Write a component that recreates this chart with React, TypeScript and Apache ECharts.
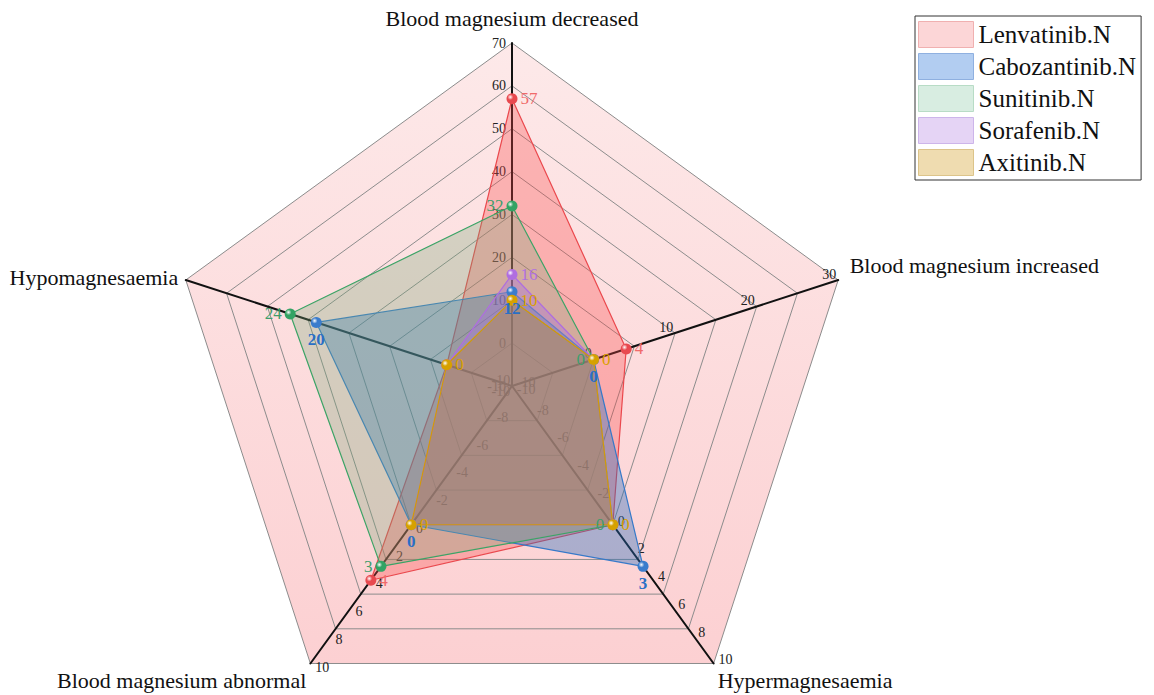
import React, { useEffect, useRef } from "react";
import * as echarts from "echarts";

// Indicators in counter-clockwise order starting from the top
const indicatorNames = [
  "Blood magnesium decreased",
  "Hypomagnesaemia",
  "Blood magnesium abnormal",
  "Hypermagnesaemia",
  "Blood magnesium increased",
];
const axisMin = [-10, -10, -10, -10, -10];
const axisMax = [70, 40, 10, 10, 30];
// tick step for each indicator's labels
const labelStep = [10, 50, 2, 2, 10];

const seriesNames = ["Lenvatinib.N", "Cabozantinib.N", "Sunitinib.N", "Sorafenib.N", "Axitinib.N"];
const lenvatinib = [57, 0, 4, 0, 4];
const cabozantinib = [12, 20, 0, 3, 0];
const sunitinib = [32, 24, 3, 0, 0];
const sorafenib = [16, 0, 0, 0, 0];
const axitinib = [10, 0, 0, 0, 0];
const seriesValues = [lenvatinib, cabozantinib, sunitinib, sorafenib, axitinib];
// which indicator values get a visible value label
const labelDims = [[0, 2, 4], [0, 1, 2, 3, 4], [0, 1, 2, 3, 4], [0], [0, 1, 2, 3, 4]];

const FONT = '"Liberation Serif", "Times New Roman", serif';

const lineColors = ["#e8494f", "#3a7ccc", "#33a364", "#b06ee0", "#d6a100"];
const areaColors = [
  "rgba(250,70,70,0.32)",
  "rgba(40,110,190,0.38)",
  "rgba(120,170,120,0.30)",
  "rgba(170,110,230,0.35)",
  "rgba(190,140,30,0.35)",
];
const labelColors = ["#f06a6a", "#2a6fc6", "#3f9e6c", "#b070e0", "#d8a000"];
const labelPos = ["right", "bottom", "left", "right", "right"];
const labelBold = [false, true, false, false, false];
const legendFill = ["#fcd6d7", "#b2cdf1", "#d8ede1", "#e5d4f5", "#efdcb0"];
const legendBorder = ["#f0b0b0", "#8fb0e0", "#b8dcc6", "#cdb5ea", "#dcc48a"];
const nameGaps = [14, 8, 7, 7, 12];
const nameStyles: any[] = [
  {},
  {},
  { align: "right", verticalAlign: "top" },
  { align: "left", verticalAlign: "top" },
  { align: "left", verticalAlign: "bottom" },
];

function ball(c: string) {
  return {
    type: "radial",
    x: 0.35,
    y: 0.35,
    r: 0.75,
    colorStops: [
      { offset: 0, color: "#ffffff" },
      { offset: 0.35, color: c },
      { offset: 1, color: c },
    ],
  };
}

export default function App() {
  const ref = useRef<HTMLDivElement>(null);
  useEffect(() => {
    document.body.style.margin = "0";
    const chart = echarts.init(ref.current!, null, { renderer: "svg" });

    const baseLabel = { show: true, color: "#222", fontSize: 14, fontFamily: FONT, margin: 6 };
    const splitCount = (i: number) => (axisMax[i] - axisMin[i]) / labelStep[i];

    const mainRadar = {
      center: [512, 386],
      radius: 343,
      startAngle: 90,
      splitNumber: 8,
      shape: "polygon",
      nameGap: 14,
      axisName: { color: "#111", fontSize: 22, fontFamily: FONT },
      indicator: indicatorNames.map((n, i) => {
        const ind: any = {
          name: n,
          min: axisMin[i],
          max: axisMax[i],
          nameGap: nameGaps[i],
          nameTextStyle: { color: "#111", fontSize: 22, fontFamily: FONT, ...nameStyles[i] },
        };
        if (splitCount(i) !== 8) {
          ind.axisLabel = { show: true, formatter: (v: number) => (v === axisMin[i] && i === 1 ? String(v) : "") };
        }
        return ind;
      }),
      axisLine: { show: true, lineStyle: { color: "#111", width: 2 } },
      axisTick: { show: false },
      axisLabel: baseLabel,
      splitLine: { show: true, lineStyle: { color: "#8c8c8c", width: 1 } },
      splitArea: {
        show: true,
        areaStyle: {
          color: [
            {
              type: "linear",
              x: 0,
              y: 43,
              x2: 0,
              y2: 664,
              global: true,
              colorStops: [
                { offset: 0, color: "#fde9e9" },
                { offset: 1, color: "#fcd0d2" },
              ],
            },
          ],
        },
      },
    };

    const extraSplits = Array.from(new Set(labelStep.map((_, i) => splitCount(i)).filter((s) => s !== 8 && Number.isInteger(s) && s > 1)));
    const extraRadars = extraSplits.map((sn) => ({
      center: [512, 386],
      radius: 343,
      startAngle: 90,
      splitNumber: sn,
      shape: "polygon",
      axisName: { show: false },
      indicator: indicatorNames.map((n, i) => ({
        name: "",
        min: axisMin[i],
        max: axisMax[i],
        axisLabel: { show: splitCount(i) === sn },
      })),
      axisLine: { show: false },
      axisTick: { show: false },
      axisLabel: baseLabel,
      splitLine: { show: false },
      splitArea: { show: false },
      silent: true,
    }));

    const series = seriesNames.map((name, s) => ({
      type: "radar",
      name,
      radarIndex: 0,
      symbol: "circle",
      symbolSize: 11,
      z: 2,
      itemStyle: { color: ball(lineColors[s]) },
      lineStyle: { color: lineColors[s], width: 1.2 },
      areaStyle: { color: areaColors[s], opacity: 1 },
      label: {
        show: true,
        position: labelPos[s],
        distance: 3,
        color: labelColors[s],
        fontSize: 17,
        fontFamily: FONT,
        fontWeight: labelBold[s] ? "bold" : "normal",
        formatter: (p: any) => (labelDims[s].includes(p.dimensionIndex) ? String(p.value) : ""),
      },
      data: [{ name, value: seriesValues[s] }],
    }));

    chart.setOption({
      animation: false,
      backgroundColor: "#ffffff",
      legend: {
        orient: "vertical",
        left: 915,
        top: 16,
        padding: [5, 5, 4, 3],
        itemGap: 5,
        itemWidth: 55,
        itemHeight: 26,
        icon: "rect",
        borderColor: "#333",
        borderWidth: 1,
        backgroundColor: "#fff",
        textStyle: { fontSize: 25, fontFamily: FONT, color: "#111" },
        selectedMode: false,
        data: seriesNames.map((n, i) => ({
          name: n,
          itemStyle: { color: legendFill[i], borderColor: legendBorder[i], borderWidth: 1 },
        })),
      },
      radar: [mainRadar, ...extraRadars],
      series,
    });
    return () => chart.dispose();
  }, []);
  return <div ref={ref} style={{ width: 1154, height: 695 }} />;
}
